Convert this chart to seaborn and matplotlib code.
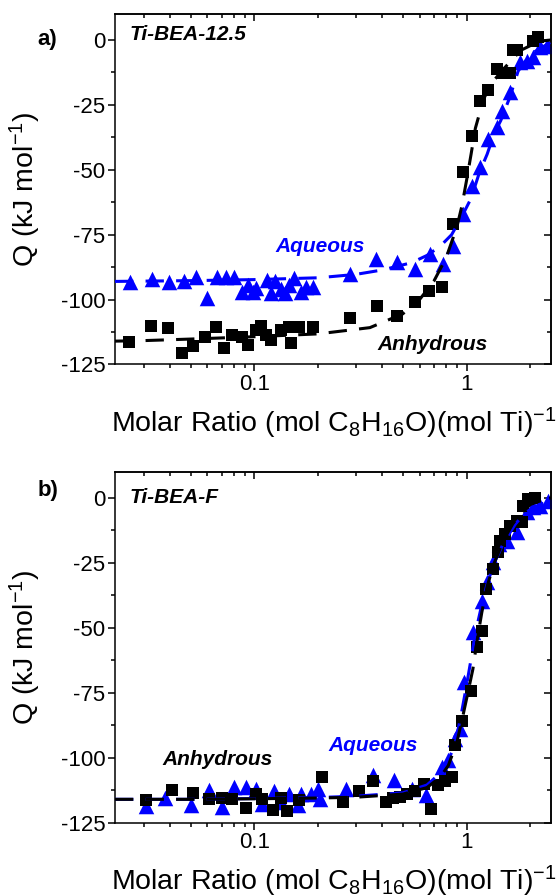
import matplotlib
matplotlib.use('Agg')
import matplotlib.pyplot as plt
import matplotlib.ticker as ticker
import pandas as pd
import seaborn as sns

# a) Ti-BEA-12.5, anhydrous (black squares)
a_anh_x = [0.0256, 0.0324, 0.0390, 0.0457, 0.0515, 0.0586, 0.0657, 0.0719, 0.0787, 0.0878,
           0.0929, 0.1018, 0.107, 0.113, 0.119, 0.133, 0.146, 0.149, 0.163, 0.1885,
           0.281, 0.378, 0.470, 0.570, 0.666, 0.762, 0.859, 0.957, 1.056, 1.155,
           1.265, 1.386, 1.48, 1.60, 1.66, 1.72, 2.06, 2.17]
a_anh_q = [-116.2, -110.2, -111.1, -120.7, -117.9, -114.5, -110.7, -118.8, -113.6, -114.5,
           -117.5, -111.7, -110.2, -113.6, -115.6, -111.7, -110.4, -116.8, -110.4, -110.7,
           -107.1, -102.6, -106.2, -101.0, -96.6, -95.3, -70.9, -51.0, -36.9, -23.4,
           -19.3, -11.2, -12.8, -12.8, -3.9, -3.9, -0.3, 1.0]
# a) aqueous (blue triangles)
a_aq_x = [0.0260, 0.0330, 0.0395, 0.0466, 0.0528, 0.0596, 0.0664, 0.0732, 0.0802, 0.0878,
          0.093, 0.098, 0.1017, 0.115, 0.119, 0.125, 0.133, 0.140, 0.146, 0.154,
          0.166, 0.175, 0.1885, 0.281, 0.376, 0.470, 0.570, 0.671, 0.770, 0.859,
          0.963, 1.056, 1.155, 1.256, 1.386, 1.463, 1.602, 1.785, 1.92, 2.06, 2.22, 2.39]
a_aq_q = [-93.1, -92.2, -93.1, -92.7, -91.2, -99.5, -91.2, -91.2, -91.2, -97.0,
          -94.4, -97.0, -95.5, -92.4, -97.6, -93.0, -96.0, -97.5, -94.5, -91.8,
          -97.0, -95.0, -95.3, -90.1, -84.4, -85.6, -88.2, -82.4, -86.3, -79.2,
          -67.0, -56.1, -49.0, -38.1, -33.6, -27.2, -20.2, -8.6, -8.0, -6.7, -2.8, -2.2]
# a) fitted curves
a_anh_fit_x = [0.022, 0.03, 0.05, 0.1, 0.2, 0.35, 0.5, 0.6, 0.7, 0.8, 0.9, 0.95, 1.0,
               1.05, 1.1, 1.2, 1.3, 1.5, 1.8, 2.2, 2.5]
a_anh_fit_q = [-116, -115.8, -115.2, -114.3, -113.2, -110.8, -105.5, -100, -93, -84, -72, -64, -54,
               -44, -34, -23, -17, -11, -4, -0.5, 0]
a_aq_fit_x = [0.022, 0.05, 0.1, 0.2, 0.3, 0.4, 0.55, 0.65, 0.75, 0.85, 0.95, 1.05, 1.15,
              1.25, 1.35, 1.45, 1.6, 1.75, 2.0, 2.25, 2.5]
a_aq_fit_q = [-93, -92.7, -92.3, -91.6, -90.3, -88.6, -85.8, -83, -79.5, -75, -68, -61, -51,
              -44, -36, -31, -22, -12, -5.5, -3, -0.8]

# b) Ti-BEA-F, anhydrous (black squares)
b_anh_x = [0.0307, 0.0410, 0.0512, 0.0613, 0.0706, 0.0787, 0.091, 0.1017, 0.109, 0.122,
           0.133, 0.143, 0.163, 0.207, 0.260, 0.311, 0.362, 0.416, 0.450, 0.485,
           0.524, 0.570, 0.628, 0.678, 0.734, 0.790, 0.85, 0.881, 0.947, 1.044,
           1.115, 1.177, 1.23, 1.336, 1.40, 1.436, 1.517, 1.6, 1.72, 1.82,
           1.85, 1.95, 2.1]
b_anh_q = [-116.4, -112.3, -113.6, -115.8, -115.4, -115.8, -119.3, -114.1, -115.8, -120.0,
           -115.4, -120.6, -116.4, -107.6, -117.0, -112.7, -108.9, -117.0, -115.3, -115.0,
           -114.0, -112.7, -110.2, -119.8, -110.6, -108.9, -107.6, -95.1, -85.8, -74.2,
           -57.5, -51.1, -35.0, -27.3, -20.9, -16.4, -13.9, -10.6, -8.7, -9.4,
           -2.9, -0.4, -0.2]
# b) aqueous (blue triangles)
b_aq_x = [0.0307, 0.038, 0.0500, 0.0613, 0.0706, 0.080, 0.091, 0.1017, 0.109, 0.123,
          0.133, 0.146, 0.16, 0.166, 0.185, 0.199, 0.203, 0.271, 0.362, 0.455,
          0.55, 0.647, 0.762, 0.819, 0.881, 0.93, 0.974, 1.075, 1.177, 1.243,
          1.327, 1.425, 1.545, 1.72, 1.92, 2.06, 2.22, 2.43]
b_aq_q = [-118.4, -115.4, -118.0, -112.6, -118.8, -111.3, -111.3, -112.0, -117.7, -112.9,
          -117.0, -114.1, -118.0, -114.1, -113.9, -112.0, -116.0, -112.0, -106.8, -108.7,
          -112.0, -114.5, -103.6, -101.0, -92.8, -88.8, -71.0, -51.7, -39.5, -32.5,
          -24.8, -17.7, -16.4, -13.2, -5.5, -3.6, -2.9, -1.0]
# b) fitted curves
b_anh_fit_x = [0.022, 0.05, 0.1, 0.2, 0.3, 0.5, 0.65, 0.75, 0.82, 0.9, 0.96, 1.02, 1.07,
               1.12, 1.18, 1.25, 1.35, 1.5, 1.65, 1.8, 2.0, 2.3, 2.5]
b_anh_fit_q = [-116, -116, -115.8, -115.5, -115.2, -114, -111.5, -107.5, -103, -94, -84, -74, -66,
               -55, -44, -34, -25, -16, -10, -6, -2.5, -0.5, 0]
b_aq_fit_x = [0.022, 0.05, 0.1, 0.2, 0.3, 0.5, 0.65, 0.75, 0.82, 0.88, 0.94, 1.0, 1.05,
              1.1, 1.18, 1.25, 1.35, 1.5, 1.7, 1.9, 2.2, 2.5]
b_aq_fit_q = [-116, -116, -115.7, -115.3, -114.8, -113.5, -110.5, -106, -101, -95, -84, -72, -62,
              -52, -41, -33, -25, -17, -10, -5.5, -2.5, -1.2]

y_ticks = [0, -25, -50, -75, -100, -125]

sns.set_theme(style='ticks')
plt.rcParams['font.family'] = ['Liberation Sans', 'DejaVu Sans']
plt.rcParams['mathtext.fontset'] = 'custom'
plt.rcParams['mathtext.rm'] = 'Liberation Sans'
plt.rcParams['mathtext.it'] = 'Liberation Sans:italic'
plt.rcParams['mathtext.bf'] = 'Liberation Sans:bold'
plt.rcParams['axes.unicode_minus'] = False
for k in ['axes.edgecolor', 'xtick.color', 'ytick.color', 'axes.labelcolor', 'text.color']:
    plt.rcParams[k] = 'black'

BLUE = '#0000ff'
W, H = 557, 896
fig = plt.figure(figsize=(W / 100, H / 100), dpi=100)


def px_axes(left, top, right, bottom):
    return fig.add_axes([left / W, 1 - bottom / H, (right - left) / W, (bottom - top) / H])


def draw_panel(ax, anh_x, anh_q, aq_x, aq_q, anhf_x, anhf_q, aqf_x, aqf_q, xlab_y):
    ax.set_xscale('log')
    sns.scatterplot(data=pd.DataFrame({'x': aq_x, 'q': aq_q}), x='x', y='q', marker='^',
                    s=125, color=BLUE, linewidth=0, ax=ax, zorder=2)
    sns.scatterplot(data=pd.DataFrame({'x': anh_x, 'q': anh_q}), x='x', y='q', marker='s',
                    s=85, color='black', linewidth=0, ax=ax, zorder=3)
    sns.lineplot(data=pd.DataFrame({'x': aqf_x, 'q': aqf_q}), x='x', y='q', color=BLUE,
                 lw=2.2, linestyle=(0, (6, 4)), estimator=None, sort=False, ax=ax, zorder=4)
    sns.lineplot(data=pd.DataFrame({'x': anhf_x, 'q': anhf_q}), x='x', y='q', color='black',
                 lw=2.2, linestyle=(0, (6, 4)), estimator=None, sort=False, ax=ax, zorder=4)

    ax.set_xlim(0.022, 2.5)
    ax.set_ylim(-125, 10)
    ax.xaxis.set_major_locator(ticker.LogLocator(base=10))
    ax.xaxis.set_major_formatter(ticker.FuncFormatter(lambda v, p: f'{v:g}'))
    ax.xaxis.set_minor_locator(ticker.LogLocator(base=10, subs=[2, 3, 4, 5, 6, 7, 8, 9]))
    ax.xaxis.set_minor_formatter(ticker.NullFormatter())
    ax.set_yticks(y_ticks)
    ax.yaxis.set_minor_locator(ticker.MultipleLocator(12.5))
    ax.tick_params(which='major', direction='out', length=5, width=1.1, labelsize=16, pad=2)
    ax.tick_params(which='minor', direction='out', length=3, width=1.1)
    for sp in ax.spines.values():
        sp.set_linewidth(1.1)

    top = ax.secondary_xaxis('top')
    top.xaxis.set_minor_locator(ticker.LogLocator(base=10, subs=[2, 3, 4, 5, 6, 7, 8, 9]))
    top.xaxis.set_minor_formatter(ticker.NullFormatter())
    top.xaxis.set_major_formatter(ticker.NullFormatter())
    top.tick_params(which='major', direction='in', length=5, width=1.1)
    top.tick_params(which='minor', direction='in', length=3, width=1.1)
    right = ax.secondary_yaxis('right')
    right.set_yticks(y_ticks)
    right.yaxis.set_major_formatter(ticker.NullFormatter())
    right.yaxis.set_minor_locator(ticker.MultipleLocator(12.5))
    right.tick_params(which='major', direction='in', length=5, width=1.1)
    right.tick_params(which='minor', direction='in', length=3, width=1.1)
    for s in (top, right):
        for sp in s.spines.values():
            sp.set_linewidth(1.1)

    ax.set_xlabel(r'Molar Ratio (mol C$_8$H$_{16}$O)(mol Ti)$^{-1}$', fontsize=20.5)
    ax.set_ylabel(r'Q (kJ mol$^{-1}$)', fontsize=20.5)
    ax.xaxis.set_label_coords(0.502, xlab_y)
    ax.yaxis.set_label_coords(-0.165, 0.5)


ax_a = px_axes(115, 14, 551, 364.5)
ax_b = px_axes(115, 472, 551, 822.7)
draw_panel(ax_a, a_anh_x, a_anh_q, a_aq_x, a_aq_q,
           a_anh_fit_x, a_anh_fit_q, a_aq_fit_x, a_aq_fit_q, -0.118)
draw_panel(ax_b, b_anh_x, b_anh_q, b_aq_x, b_aq_q,
           b_anh_fit_x, b_anh_fit_q, b_aq_fit_x, b_aq_fit_q, -0.118)


def label(x, y, s, color='black', size=15, italic=True, ha='left'):
    fig.text(x / W, 1 - y / H, s, color=color, fontsize=size, fontweight='bold',
             fontstyle='italic' if italic else 'normal', ha=ha, va='center')


label(47, 40, 'a)', size=16, italic=False, ha='center')
label(130, 35, 'Ti-BEA-12.5')
label(275, 246, 'Aqueous', color=BLUE)
label(377, 345, 'Anhydrous')
label(48, 490, 'b)', size=16, italic=False, ha='center')
label(130, 497, 'Ti-BEA-F')
label(162, 759, 'Anhydrous')
label(328, 745, 'Aqueous', color=BLUE)

fig.savefig('out.png', dpi=100)
